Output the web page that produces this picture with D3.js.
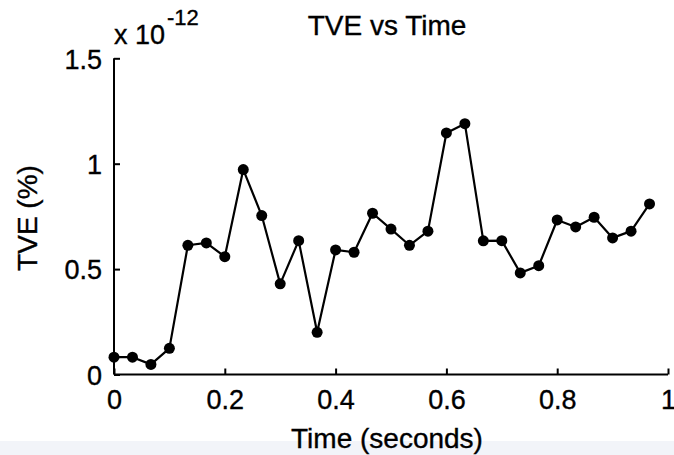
<!DOCTYPE html>
<html>
<head>
<meta charset="utf-8">
<script src="https://cdn.jsdelivr.net/npm/d3@7"></script>
<style>
  html, body { margin: 0; padding: 0; background: #ffffff; }
  svg { display: block; }
  text { font-family: "Liberation Sans", Arial, sans-serif; fill: #000; stroke: #000; stroke-width: 0.35px; }
</style>
</head>
<body>
<div id="chart"></div>
<script>
// ---- data ----
const times = d3.range(30).map(i => i / 30); // sample times (seconds)
const tveValues = [
  0.082, 0.082, 0.048, 0.124, 0.613, 0.624, 0.559, 0.972, 0.754, 0.430,
  0.635, 0.200, 0.591, 0.580, 0.765, 0.690, 0.613, 0.680, 1.146, 1.190,
  0.634, 0.635, 0.482, 0.516, 0.733, 0.700, 0.746, 0.648, 0.680, 0.809
]; // in units of 1e-12 %
const xTicks = [0, 0.2, 0.4, 0.6, 0.8, 1];
const xTickLabels = ["0", "0.2", "0.4", "0.6", "0.8", "1"];
const yTicks = [0, 0.5, 1, 1.5];
const yTickLabels = ["0", "0.5", "1", "1.5"];
const titleText = "TVE vs Time";
const xLabel = "Time (seconds)";
const yLabel = "TVE (%)";

// ---- layout ----
const W = 674, H = 455;
const mLeft = 114, mRight = 668, mTop = 58.3, mBottom = 374.5;

const svg = d3.select("#chart").append("svg").attr("width", W).attr("height", H);

// faint band at bottom
svg.append("rect").attr("x", 0).attr("y", 441).attr("width", W).attr("height", H - 441)
  .attr("fill", "#f2f4f9");

const x = d3.scaleLinear().domain([0, 1]).range([mLeft, mRight]);
const y = d3.scaleLinear().domain([0, 1.5]).range([mBottom, mTop]);

const fs = 27;

// x axis
const xAxis = d3.axisBottom(x).tickValues(xTicks).tickSize(-6).tickPadding(12)
  .tickFormat((d, i) => xTickLabels[i]);
const gx = svg.append("g").attr("transform", `translate(0,${mBottom})`).call(xAxis);
gx.select(".domain").attr("d", `M${mLeft},0H${mRight}`).attr("stroke", "#000").attr("stroke-width", 2);
gx.selectAll(".tick line").attr("stroke", "#000").attr("stroke-width", 2);
gx.selectAll(".tick text").attr("font-size", fs)
  .attr("dy", "0.71em").attr("y", 15);

// y axis
const yAxis = d3.axisLeft(y).tickValues(yTicks).tickSize(-6).tickPadding(12)
  .tickFormat((d, i) => yTickLabels[i]);
const gy = svg.append("g").attr("transform", `translate(${mLeft},0)`).call(yAxis);
gy.select(".domain").attr("d", `M0,${mTop}V${mBottom}`).attr("stroke", "#000").attr("stroke-width", 2);
gy.selectAll(".tick line").attr("stroke", "#000").attr("stroke-width", 2);
gy.selectAll(".tick text").attr("font-size", fs)
  .attr("x", -12).attr("dy", "0.36em");

// exponent label
const expo = svg.append("text").attr("x", 114).attr("y", 44).attr("font-size", fs);
expo.append("tspan").text("x 10");
expo.append("tspan").attr("font-size", 22).attr("dy", -19).attr("dx", 2).text("-12");

// title
svg.append("text").attr("x", 387).attr("y", 35).attr("text-anchor", "middle")
  .attr("font-size", 28).text(titleText);

// x label
svg.append("text").attr("x", 387).attr("y", 448).attr("text-anchor", "middle")
  .attr("font-size", 28).text(xLabel);

// y label
svg.append("text").attr("transform", "translate(37,218) rotate(-90)").attr("text-anchor", "middle")
  .attr("font-size", 28).text(yLabel);

// data
const pts = times.map((t, i) => [t, tveValues[i]]);
const line = d3.line().x(d => x(d[0])).y(d => y(d[1]));
svg.append("path").datum(pts).attr("d", line).attr("fill", "none")
  .attr("stroke", "#000").attr("stroke-width", 2.2).attr("stroke-linejoin", "round");

svg.append("g").selectAll("circle").data(pts).join("circle")
  .attr("cx", d => x(d[0])).attr("cy", d => y(d[1])).attr("r", 5.5).attr("fill", "#000");
</script>
</body>
</html>
